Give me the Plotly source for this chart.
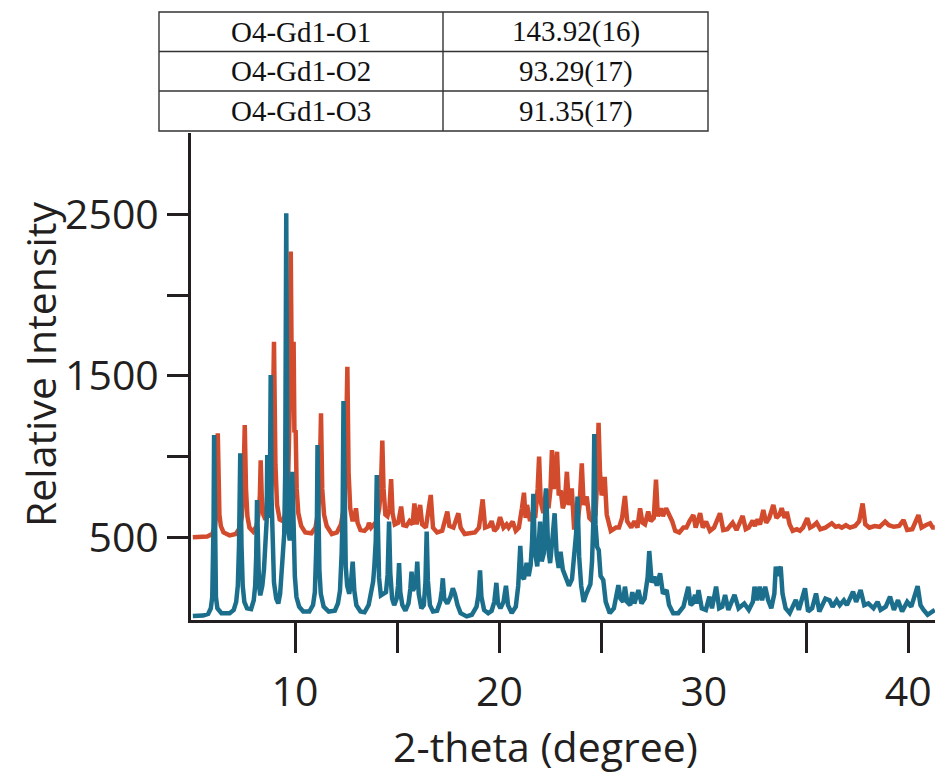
import plotly.graph_objects as go

# ---------------- data ----------------
table_angles = ["O4-Gd1-O1", "O4-Gd1-O2", "O4-Gd1-O3"]
table_values = ["143.92(16)", "93.29(17)", "91.35(17)"]

x_tick_vals = [10, 15, 20, 25, 30, 35, 40]
x_tick_text = ["10", "", "20", "", "30", "", "40"]
y_tick_vals = [500, 1000, 1500, 2000, 2500]
y_tick_text = ["500", "", "1500", "", "2500"]

# blue pattern: (2-theta, intensity)
blue_pts = [
    (5.0, 12), (5.5, 15), (5.75, 25), (5.88, 60), (5.95, 130), (5.99, 300), (6.015, 600), (6.04, 1134),
    (6.065, 600), (6.09, 300), (6.13, 130), (6.2, 60), (6.4, 30), (6.8, 30), (7.0, 50), (7.12, 100),
    (7.2, 200), (7.26, 450), (7.32, 1020), (7.38, 450), (7.44, 200), (7.52, 100), (7.65, 60),
    (7.85, 55), (7.98, 110), (8.05, 200), (8.1, 380), (8.14, 731), (8.18, 380), (8.24, 200),
    (8.3, 140), (8.4, 200), (8.48, 300), (8.53, 400), (8.58, 450), (8.61, 600), (8.64, 1010),
    (8.68, 650), (8.72, 620), (8.77, 800), (8.81, 1506), (8.85, 750), (8.9, 400), (8.97, 220),
    (9.08, 120), (9.18, 90), (9.27, 150), (9.35, 350), (9.42, 430), (9.47, 520), (9.52, 900),
    (9.57, 2507), (9.62, 950), (9.67, 550), (9.74, 480), (9.8, 560), (9.87, 906), (9.93, 500),
    (9.99, 260), (10.07, 130), (10.2, 70), (10.4, 40), (10.7, 40), (10.88, 80), (10.97, 160),
    (11.03, 400), (11.07, 600), (11.1, 1072), (11.14, 580), (11.19, 300), (11.26, 150), (11.4, 70),
    (11.65, 40), (11.95, 45), (12.1, 90), (12.2, 170), (12.28, 400), (12.33, 650), (12.37, 1345),
    (12.42, 650), (12.48, 320), (12.55, 200), (12.65, 150), (12.73, 210), (12.82, 349), (12.9, 170),
    (13.0, 80), (13.2, 40), (13.4, 35), (13.6, 80), (13.75, 170), (13.82, 225), (13.88, 320),
    (13.95, 480), (14.0, 886), (14.05, 450), (14.11, 250), (14.2, 140), (14.35, 150), (14.45, 160),
    (14.53, 270), (14.6, 597), (14.66, 280), (14.75, 120), (14.85, 80), (14.97, 120), (15.04, 200),
    (15.09, 340), (15.15, 160), (15.25, 80), (15.4, 45), (15.55, 90), (15.64, 180), (15.7, 287),
    (15.77, 170), (15.85, 190), (15.92, 230), (15.98, 349), (16.05, 150), (16.18, 60), (16.3, 80),
    (16.38, 220), (16.44, 535), (16.5, 230), (16.6, 80), (16.75, 40), (16.95, 45), (17.1, 100),
    (17.18, 170), (17.23, 246), (17.3, 120), (17.45, 90), (17.6, 130), (17.72, 184), (17.82, 150),
    (17.95, 80), (18.1, 30), (18.4, 10), (18.65, 20), (18.88, 70), (18.97, 140), (19.05, 295),
    (19.12, 130), (19.25, 50), (19.45, 30), (19.62, 45), (19.75, 100), (19.85, 218), (19.93, 90),
    (20.05, 60), (20.2, 100), (20.32, 200), (20.42, 80), (20.6, 30), (20.8, 70), (20.92, 200),
    (21.02, 447), (21.1, 260), (21.2, 240), (21.33, 342), (21.43, 260), (21.53, 330), (21.6, 480),
    (21.66, 770), (21.73, 420), (21.85, 320), (21.99, 597), (22.07, 350), (22.17, 400), (22.28, 804),
    (22.38, 440), (22.48, 340), (22.6, 500), (22.7, 649), (22.8, 390), (22.9, 310), (22.99, 411),
    (23.1, 300), (23.25, 250), (23.4, 200), (23.55, 240), (23.68, 400), (23.75, 520), (23.82, 752),
    (23.9, 380), (24.0, 200), (24.12, 100), (24.25, 150), (24.35, 180), (24.45, 210), (24.53, 350),
    (24.59, 580), (24.64, 1140), (24.7, 580), (24.78, 440), (24.86, 420), (24.95, 260), (25.08, 235),
    (25.2, 100), (25.4, 30), (25.6, 60), (25.72, 160), (25.82, 204), (25.92, 120), (26.05, 100),
    (26.14, 194), (26.25, 100), (26.4, 80), (26.5, 160), (26.6, 90), (26.8, 173), (26.95, 90),
    (27.1, 120), (27.25, 250), (27.33, 415), (27.45, 220), (27.58, 256), (27.7, 200), (27.86, 277),
    (28.0, 150), (28.18, 173), (28.3, 80), (28.5, 30), (28.75, 30), (29.0, 70), (29.24, 194),
    (29.35, 80), (29.45, 90), (29.57, 143), (29.65, 90), (29.74, 173), (29.9, 60), (30.1, 50),
    (30.27, 132), (30.4, 60), (30.6, 194), (30.75, 60), (30.9, 70), (31.04, 143), (31.2, 50),
    (31.5, 143), (31.7, 60), (31.98, 90), (32.2, 50), (32.4, 100), (32.48, 194), (32.6, 110),
    (32.73, 194), (32.85, 110), (33.0, 194), (33.15, 110), (33.3, 60), (33.45, 150), (33.52, 318),
    (33.62, 260), (33.7, 300), (33.76, 318), (33.85, 150), (34.0, 60), (34.2, 30), (34.5, 112),
    (34.65, 50), (34.95, 184), (35.1, 40), (35.3, 60), (35.49, 152), (35.65, 40), (35.95, 120),
    (36.15, 110), (36.3, 70), (36.5, 110), (36.65, 80), (36.85, 110), (37.0, 80), (37.3, 163),
    (37.45, 100), (37.67, 173), (37.85, 80), (38.05, 90), (38.3, 60), (38.5, 100), (38.65, 50),
    (38.9, 70), (39.11, 132), (39.3, 50), (39.5, 110), (39.7, 40), (39.95, 100), (40.15, 70),
    (40.46, 198), (40.6, 80), (40.75, 50), (40.95, 20), (41.3, 50),
]

# red pattern (offset by 500)
red_pts = [
    (5.0, 500), (5.7, 505), (5.95, 520), (6.07, 560), (6.14, 640), (6.19, 800), (6.22, 1145),
    (6.25, 800), (6.3, 640), (6.37, 570), (6.5, 530), (6.8, 512), (7.1, 520), (7.3, 560), (7.4, 630),
    (7.47, 800), (7.54, 1195), (7.6, 800), (7.67, 630), (7.77, 560), (7.95, 535), (8.12, 570),
    (8.22, 650), (8.28, 760), (8.32, 977), (8.37, 760), (8.45, 640), (8.55, 610), (8.68, 640),
    (8.8, 720), (8.88, 900), (8.97, 1712), (9.04, 950), (9.12, 700), (9.25, 610), (9.4, 600),
    (9.55, 650), (9.66, 850), (9.74, 1300), (9.79, 2270), (9.85, 1350), (9.9, 1500), (9.93, 1712),
    (9.97, 1150), (10.03, 1165), (10.08, 800), (10.16, 650), (10.3, 570), (10.5, 530), (10.8, 525),
    (11.0, 560), (11.12, 650), (11.2, 800), (11.27, 1268), (11.33, 800), (11.42, 640), (11.55, 570),
    (11.8, 520), (12.05, 530), (12.25, 580), (12.38, 680), (12.47, 900), (12.56, 1557), (12.62, 900),
    (12.7, 680), (12.8, 610), (12.9, 610), (12.98, 680), (13.06, 590), (13.2, 545), (13.4, 540),
    (13.55, 560), (13.62, 590), (13.72, 560), (13.85, 580), (14.0, 600), (14.12, 680), (14.2, 800),
    (14.27, 1100), (14.33, 800), (14.42, 640), (14.52, 630), (14.62, 680), (14.7, 860), (14.77, 650),
    (14.88, 580), (15.05, 590), (15.19, 690), (15.3, 575), (15.45, 570), (15.6, 600), (15.75, 580),
    (15.84, 710), (15.95, 580), (16.12, 700), (16.22, 580), (16.4, 560), (16.64, 762), (16.75, 560),
    (16.95, 530), (17.2, 540), (17.3, 580), (17.45, 659), (17.55, 570), (17.75, 560), (17.99, 649),
    (18.1, 560), (18.3, 520), (18.5, 525), (18.8, 530), (19.0, 560), (19.18, 735), (19.3, 560),
    (19.5, 570), (19.62, 600), (19.75, 540), (19.9, 560), (20.03, 625), (20.2, 560), (20.35, 580),
    (20.45, 560), (20.65, 597), (20.8, 540), (20.95, 560), (21.1, 680), (21.2, 776), (21.28, 620),
    (21.35, 700), (21.5, 600), (21.62, 650), (21.75, 620), (21.87, 800), (21.94, 1000), (22.02, 720),
    (22.15, 650), (22.28, 793), (22.4, 680), (22.5, 800), (22.57, 1040), (22.66, 800), (22.75, 900),
    (22.82, 1030), (22.9, 760), (23.0, 790), (23.1, 680), (23.2, 720), (23.3, 906), (23.4, 700),
    (23.54, 803), (23.65, 560), (23.8, 560), (23.92, 700), (24.03, 958), (24.12, 700), (24.27, 752),
    (24.4, 620), (24.55, 600), (24.7, 640), (24.78, 850), (24.85, 1210), (24.92, 900), (25.0, 760),
    (25.08, 800), (25.15, 875), (25.25, 640), (25.45, 540), (25.7, 560), (25.85, 560), (26.0, 620),
    (26.14, 756), (26.25, 600), (26.45, 560), (26.6, 600), (26.75, 560), (26.88, 680), (27.0, 590),
    (27.12, 580), (27.28, 659), (27.4, 600), (27.55, 620), (27.66, 858), (27.75, 630), (27.9, 680),
    (28.0, 630), (28.15, 680), (28.3, 640), (28.45, 600), (28.6, 540), (28.8, 530), (29.0, 560),
    (29.15, 560), (29.3, 600), (29.49, 638), (29.6, 560), (29.82, 649), (29.95, 560), (30.11, 597),
    (30.3, 540), (30.5, 560), (30.79, 649), (30.95, 545), (31.15, 550), (31.41, 590), (31.6, 545),
    (31.9, 632), (32.05, 550), (32.2, 560), (32.39, 603), (32.5, 570), (32.63, 611), (32.75, 580),
    (32.91, 669), (33.05, 590), (33.2, 620), (33.4, 700), (33.55, 620), (33.7, 640), (33.81, 680),
    (33.95, 620), (34.06, 659), (34.2, 580), (34.35, 540), (34.55, 550), (34.7, 540), (34.85, 560),
    (35.06, 618), (35.2, 560), (35.35, 570), (35.52, 590), (35.7, 550), (35.95, 560), (36.26, 587),
    (36.45, 565), (36.6, 570), (36.75, 560), (36.95, 575), (37.15, 560), (37.4, 570), (37.6, 600),
    (37.77, 710), (37.9, 580), (38.1, 560), (38.35, 570), (38.6, 565), (38.87, 597), (39.05, 575),
    (39.3, 565), (39.55, 570), (39.77, 607), (39.95, 545), (40.2, 550), (40.5, 638), (40.65, 560),
    (40.85, 575), (41.07, 587), (41.2, 560), (41.3, 560),
]

# ---------------- layout constants ----------------
W, H = 940, 774
L, R, T, B = 191, 5, 133, 154
PW, PH = W - L - R, H - T - B
INK = "#231f20"
SANS = "Open Sans"
BLUE = "#1b6f8c"
RED = "#d24b2c"


def fx(px):
    return (px - L) / PW


def fy(py):
    return (H - B - py) / PH


fig = go.Figure()
fig.add_trace(go.Scatter(x=[p[0] for p in red_pts], y=[p[1] for p in red_pts], mode="lines",
                         line=dict(color=RED, width=4.5), showlegend=False))
fig.add_trace(go.Scatter(x=[p[0] for p in blue_pts], y=[p[1] for p in blue_pts], mode="lines",
                         line=dict(color=BLUE, width=4.5), showlegend=False))

fig.update_layout(
    width=W, height=H,
    margin=dict(l=L, r=R, t=T, b=B),
    paper_bgcolor="white", plot_bgcolor="white",
    showlegend=False,
    xaxis=dict(range=[4.91, 41.31], showline=True, linewidth=3, linecolor=INK,
               ticks="outside", ticklen=30, tickwidth=2.5, tickcolor=INK,
               tickvals=x_tick_vals, ticktext=x_tick_text,
               tickfont=dict(family=SANS, size=41, color=INK),
               showgrid=False, zeroline=False, ticklabelstandoff=4),
    yaxis=dict(range=[-12.4, 3005], showline=True, linewidth=3, linecolor=INK,
               ticks="outside", ticklen=21, tickwidth=2.5, tickcolor=INK,
               tickvals=y_tick_vals, ticktext=y_tick_text,
               tickfont=dict(family=SANS, size=41, color=INK),
               showgrid=False, zeroline=False, ticklabelstandoff=0),
)

# axis titles
fig.add_annotation(text="Relative Intensity", xref="paper", yref="paper", x=fx(40), y=fy(365),
                   textangle=-90, showarrow=False, xanchor="center", yanchor="middle",
                   font=dict(family=SANS, size=41, color=INK))
fig.add_annotation(text="2-theta (degree)", xref="paper", yref="paper", x=fx(545), y=fy(746),
                   showarrow=False, xanchor="center", yanchor="middle",
                   font=dict(family=SANS, size=41, color=INK))

# table above the plot
tx = [159, 443, 708]
ty = [12, 51.5, 91, 131]
tline = dict(color="#333333", width=1.4)
fig.add_shape(type="rect", xref="paper", yref="paper", x0=fx(tx[0]), x1=fx(tx[2]),
              y0=fy(ty[0]), y1=fy(ty[3]), line=tline, fillcolor="rgba(0,0,0,0)")
fig.add_shape(type="line", xref="paper", yref="paper", x0=fx(tx[1]), x1=fx(tx[1]),
              y0=fy(ty[0]), y1=fy(ty[3]), line=tline)
for yy in ty[1:3]:
    fig.add_shape(type="line", xref="paper", yref="paper", x0=fx(tx[0]), x1=fx(tx[2]),
                  y0=fy(yy), y1=fy(yy), line=tline)
for i, (a, v) in enumerate(zip(table_angles, table_values)):
    yc = (ty[i] + ty[i + 1]) / 2
    for txt, xc in ((a, (tx[0] + tx[1]) / 2), (v, (tx[1] + tx[2]) / 2)):
        fig.add_annotation(text=txt, xref="paper", yref="paper", x=fx(xc), y=fy(yc),
                           showarrow=False, xanchor="center", yanchor="middle",
                           font=dict(family="Liberation Serif", size=29, color="#111111"))

fig.write_html("out.html", config={"displayModeBar": False})
